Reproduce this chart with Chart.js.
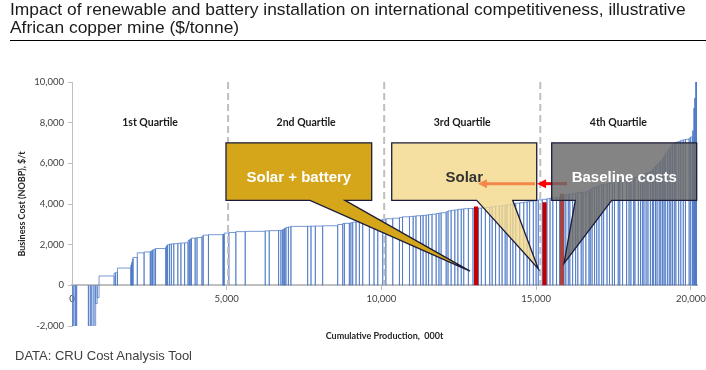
<!DOCTYPE html>
<html>
<head>
<meta charset="utf-8">
<script src="https://cdn.jsdelivr.net/npm/chart.js@4.4.1/dist/chart.umd.min.js"></script>
<style>
  html, body { margin: 0; padding: 0; background: #fff; }
  body { width: 706px; height: 370px; position: relative; overflow: hidden; font-family: "Liberation Sans", Arial, sans-serif; }
  #chart { position: absolute; left: 0; top: 0; }
  #title { position: absolute; left: 10px; right: 0; top: 1px; height: 39px; border-bottom: 1.3px solid #000;
           font-size: 17.4px; line-height: 17.5px; color: #1a1a1a; }
  #source { position: absolute; left: 15px; top: 348px; font-size: 13px; color: #404040; }
</style>
</head>
<body>
<canvas id="chart" width="706" height="370"></canvas>
<div id="title">Impact of renewable and battery installation on international competitiveness, illustrative African copper mine ($/tonne)</div>
<div id="source">DATA: CRU Cost Analysis Tool</div>
<script>
// Cost curve: each mine's output (000t) and business cost ($/t), in curve order
const mineOutput = [
  60, 50, 40, 380, 60, 50, 70, 55, 50, 60,
  485, 50, 60, 430, 25, 25, 25, 135, 220, 200, 30, 40, 50, 50, 330, 30, 30, 60, 60, 80, 130,
  100, 120, 110, 40, 30, 40, 120, 60, 160, 40, 170, 470, 20, 20, 150, 226,
  302, 647, 130, 302, 75, 54, 40, 30, 38, 80, 82, 540, 108, 140, 237, 486, 162, 54, 161, 50, 58,
  108, 108, 108, 216, 150, 120, 161, 100, 224, 216, 100, 224,
  120, 90, 150, 80, 99, 80, 110, 134, 90, 70, 163, 60, 100, 120, 98, 110, 80, 150, 149, 180,
  90, 130, 140, 80, 110, 120, 90, 100, 60, 110, 80, 90, 130, 130, 110, 80, 120, 90, 70, 130, 150,
  100, 90, 120, 100, 140,
  60, 80, 50, 90, 97, 70, 110, 60, 90, 102, 40, 60, 80, 70, 73, 90, 60, 110, 80, 92,
  70, 120, 50, 90, 130, 80, 60, 90, 40, 110, 70, 61, 50, 70, 60, 80, 64,
  40, 60, 50, 70, 50, 54, 50, 40, 70, 60, 50, 54, 60, 50, 90, 69, 80, 70, 120, 50, 58,
  26, 20, 20, 20, 20, 20
];
const mineCost = [
  -2700, -2500, -2300, -2200, -2150, -2100, -2100, -2050, -900, -600,
  460, 600, 640, 850, 1000, 1120, 1300, 1370, 1600, 1640, 1660, 1700, 1740, 1780, 1810, 1900, 1960, 2000, 2020, 2040, 2050,
  2070, 2080, 2090, 2200, 2240, 2280, 2320, 2330, 2350, 2420, 2470, 2490, 2500, 2510, 2570, 2600,
  2640, 2655, 2680, 2690, 2700, 2710, 2740, 2780, 2810, 2850, 2870, 2900, 2905, 2910, 2915, 2930, 2990, 3040, 3050, 3060, 3080,
  3110, 3120, 3130, 3150, 3180, 3200, 3220, 3250, 3275, 3300, 3340, 3370,
  3390, 3400, 3420, 3430, 3440, 3460, 3480, 3500, 3530, 3550, 3570, 3620, 3660, 3690, 3710, 3740, 3750, 3770, 3780, 3790,
  3795, 3810, 3830, 3850, 3870, 3890, 3910, 3930, 3950, 3970, 3990, 4010, 4040, 4060, 4090, 4110, 4140, 4160, 4180, 4200, 4230,
  4260, 4290, 4300, 4320, 4340,
  4420, 4450, 4470, 4490, 4500, 4540, 4560, 4580, 4590, 4600, 4680, 4740, 4790, 4820, 4850, 4920, 4950, 4980, 5000, 5020,
  5060, 5100, 5130, 5150, 5170, 5190, 5230, 5270, 5300, 5320, 5340, 5360, 5420, 5480, 5530, 5570, 5610,
  5700, 5790, 5880, 5960, 6050, 6130, 6250, 6380, 6500, 6620, 6740, 6850, 6950, 7000, 7040, 7080, 7130, 7160, 7180, 7250, 7300,
  7600, 8200, 8700, 9200, 9800, 11000
];

const xTickValues = [0, 5000, 10000, 15000, 20000];
const yTickValues = [-2000, 0, 2000, 4000, 6000, 8000, 10000];
const quartileNames = ['1st Quartile', '2nd Quartile', '3rd Quartile', '4th Quartile'];

// The illustrative mine placed on the curve under each scenario
const scenarioNames = ['Solar + battery', 'Solar', 'Baseline costs'];
const scenarioStart = [12990, 15200, 15760];
const scenarioCost = [3880, 4090, 4500];
const scenarioOutput = 145;

// build rectangle outlines for the curve
const curvePoints = [];
let cum = 0;
mineOutput.forEach((w, i) => {
  const c = mineCost[i];
  curvePoints.push({x: cum, y: 0}, {x: cum, y: c}, {x: cum + w, y: c}, {x: cum + w, y: 0});
  cum += w;
});
const totalOutput = cum;
const quartileBounds = [1, 2, 3].map(q => totalOutput * q / 4);

const scenarioColors = ['#C00000', '#C00000', '#A8433F'];
const scenarioSets = scenarioNames.map((name, i) => ({
  label: name,
  data: [
    {x: scenarioStart[i], y: 0}, {x: scenarioStart[i], y: scenarioCost[i]},
    {x: scenarioStart[i] + scenarioOutput, y: scenarioCost[i]}, {x: scenarioStart[i] + scenarioOutput, y: 0}
  ],
  showLine: true,
  borderWidth: 0,
  pointRadius: 0,
  fill: 'origin',
  backgroundColor: scenarioColors[i]
}));

// callout boxes, in data units
const boxTop = 7010, boxBottom = 4180, textLevel = 5290;
const callouts = [
  {x0: 4977, x1: 9686, base: [7692, 8823], tip: [12863, 700], fill: '#D5A51A', color: '#ffffff'},
  {x0: 10333, x1: 15020, base: [13080, 14244], tip: [15071, 820], fill: 'rgba(243,216,140,0.82)', color: '#333333'},
  {x0: 15504, x1: 20190, base: [16267, 17443], tip: [15901, 1080], fill: 'rgba(108,108,108,0.84)', color: '#ffffff'}
];

function drawCallout(ctx, x, y, c, text) {
  const l = x.getPixelForValue(c.x0), r = x.getPixelForValue(c.x1);
  const t = y.getPixelForValue(boxTop), b = y.getPixelForValue(boxBottom);
  ctx.save();
  ctx.beginPath();
  ctx.moveTo(l, t);
  ctx.lineTo(r, t);
  ctx.lineTo(r, b);
  ctx.lineTo(x.getPixelForValue(c.base[1]), b);
  ctx.lineTo(x.getPixelForValue(c.tip[0]), y.getPixelForValue(c.tip[1]));
  ctx.lineTo(x.getPixelForValue(c.base[0]), b);
  ctx.lineTo(l, b);
  ctx.closePath();
  ctx.fillStyle = c.fill;
  ctx.fill();
  ctx.strokeStyle = '#1C1C3A';
  ctx.lineWidth = 1.3;
  ctx.stroke();
  ctx.fillStyle = c.color;
  ctx.font = 'bold 15px "Liberation Sans", Arial, sans-serif';
  ctx.textAlign = 'center';
  ctx.textBaseline = 'middle';
  ctx.fillText(text, (l + r) / 2, y.getPixelForValue(textLevel));
  ctx.restore();
}

function drawArrow(ctx, x1, x2, yPix, color) {
  ctx.save();
  ctx.strokeStyle = color;
  ctx.fillStyle = color;
  ctx.lineWidth = 3;
  ctx.beginPath();
  ctx.moveTo(x1, yPix);
  ctx.lineTo(x2 + 7, yPix);
  ctx.stroke();
  ctx.beginPath();
  ctx.moveTo(x2, yPix);
  ctx.lineTo(x2 + 9, yPix - 4.5);
  ctx.lineTo(x2 + 9, yPix + 4.5);
  ctx.closePath();
  ctx.fill();
  ctx.restore();
}

const overlay = {
  id: 'overlay',
  afterDatasetsDraw(chart) {
    const {ctx, scales: {x, y}} = chart;
    // quartile separators
    ctx.save();
    ctx.strokeStyle = '#BFBFBF';
    ctx.lineWidth = 2;
    ctx.setLineDash([7, 4]);
    quartileBounds.forEach(q => {
      const px = x.getPixelForValue(q);
      ctx.beginPath();
      ctx.moveTo(px, y.getPixelForValue(10000));
      ctx.lineTo(px, y.getPixelForValue(0));
      ctx.stroke();
    });
    ctx.restore();

    // quartile labels
    const edges = [0].concat(quartileBounds, [totalOutput]);
    ctx.save();
    ctx.fillStyle = '#1a1a1a';
    ctx.font = 'bold 10.5px Lato, sans-serif';
    ctx.textAlign = 'center';
    ctx.textBaseline = 'middle';
    quartileNames.forEach((name, i) => {
      ctx.fillText(name, x.getPixelForValue((edges[i] + edges[i + 1]) / 2), y.getPixelForValue(8000));
    });
    ctx.restore();

    // callouts and arrows
    drawCallout(ctx, x, y, callouts[0], scenarioNames[0]);
    drawCallout(ctx, x, y, callouts[1], scenarioNames[1]);
    const ay = y.getPixelForValue(5000);
    drawArrow(ctx, x.getPixelForValue(14965), x.getPixelForValue(13120), ay, '#F4874B');
    drawArrow(ctx, x.getPixelForValue(16000), x.getPixelForValue(15030), ay, '#FF0000');
    drawCallout(ctx, x, y, callouts[2], scenarioNames[2]);

    // x axis title
    ctx.save();
    ctx.fillStyle = '#262626';
    ctx.font = 'bold 9px Lato, sans-serif';
    ctx.textAlign = 'center';
    ctx.textBaseline = 'middle';
    ctx.fillText('Cumulative Production,  000t', (chart.chartArea.left + chart.chartArea.right) / 2, 336);
    ctx.restore();
  }
};

const tickFont = {family: 'Lato, sans-serif', size: 9.5};

new Chart(document.getElementById('chart'), {
  type: 'scatter',
  data: {
    datasets: scenarioSets.concat([{
      label: 'Business cost',
      data: curvePoints,
      showLine: true,
      borderColor: 'rgba(68,114,196,0.72)',
      borderWidth: 1,
      pointRadius: 0,
      fill: false
    }])
  },
  options: {
    responsive: false,
    animation: false,
    layout: {padding: {left: 0, right: 9, top: 82, bottom: 44}},
    plugins: {legend: {display: false}, tooltip: {enabled: false}},
    scales: {
      x: {
        type: 'linear',
        min: 0,
        max: 20200,
        position: {y: 0},
        z: 1,
        afterBuildTicks: s => { s.ticks = xTickValues.map(v => ({value: v})); },
        afterFit: s => { s.paddingLeft = 0; s.paddingRight = 0; },
        grid: {drawOnChartArea: false, tickLength: 4, tickColor: '#BFBFBF'},
        border: {color: '#C0C0C0', width: 2},
        ticks: {padding: 4, maxRotation: 0, color: '#404040', font: tickFont}
      },
      y: {
        min: -2000,
        max: 10000,
        afterBuildTicks: s => { s.ticks = yTickValues.map(v => ({value: v})); },
        afterFit: s => { s.width = 72; },
        grid: {drawOnChartArea: false, tickLength: 4, tickColor: '#BFBFBF'},
        border: {color: '#BFBFBF', width: 1},
        ticks: {padding: 4, color: '#404040', font: tickFont},
        title: {
          display: true,
          text: 'Business Cost (NOBP), $/t',
          color: '#262626',
          font: {family: 'Lato, sans-serif', size: 9, weight: 'bold'},
          padding: {top: 17, bottom: 0}
        }
      }
    }
  },
  plugins: [overlay]
});
</script>
</body>
</html>
